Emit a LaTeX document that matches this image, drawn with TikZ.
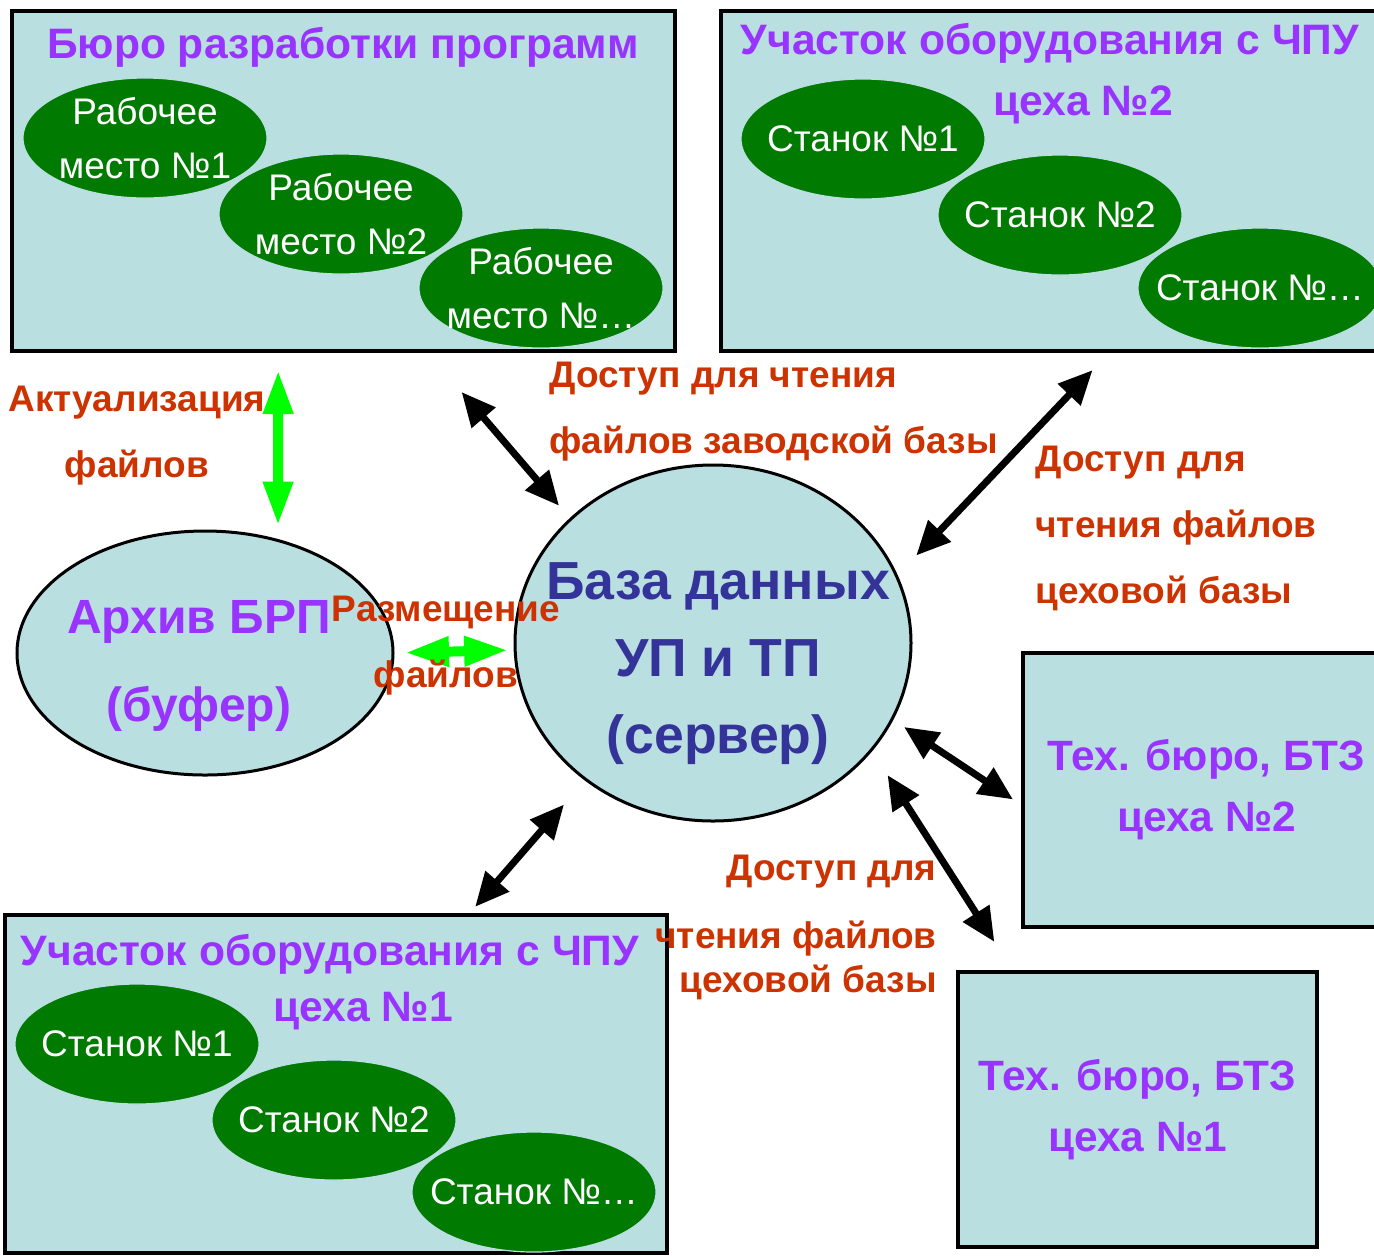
\documentclass[tikz,border=0pt]{standalone}
\usepackage{fontspec}
\setmainfont{Liberation Sans}
\usetikzlibrary{shapes.geometric, arrows.meta}
\definecolor{BoxFill}{HTML}{BADFE1}
\definecolor{TitlePurple}{HTML}{9933FF}
\definecolor{WsGreen}{HTML}{007A00}
\definecolor{DbBlue}{HTML}{333399}
\definecolor{NoteRed}{HTML}{CC3300}
\definecolor{SyncGreen}{HTML}{00FF00}

\begin{document}
\begin{tikzpicture}[x=0.5pt, y=-0.5pt,
    area/.style={draw=black, line width=2pt, fill=BoxFill, inner sep=0pt, outer sep=0pt},
    title/.style={text=TitlePurple, font=\fontsize{21.3}{31}\selectfont\bfseries, inner sep=0pt},
    ws/.style={ellipse, fill=WsGreen, draw=BoxFill, line width=0.6pt, minimum width=122pt, minimum height=60pt,
        inner xsep=-10pt, inner ysep=-3pt, text=white, align=center, font=\fontsize{18.5}{27}\selectfont},
    store/.style={ellipse, draw=black, line width=1.5pt, fill=BoxFill, inner sep=0pt, outer sep=0pt},
    note/.style={text=NoteRed, font=\fontsize{18.5}{33}\selectfont\bfseries, inner sep=0pt},
    link/.style={{Triangle[length=17pt,width=15pt]}-{Triangle[length=17pt,width=15pt]}, line width=3.5pt},
    sync/.style={{Triangle[length=22pt,width=14pt]}-{Triangle[length=22pt,width=14pt]}, line width=5pt, draw=SyncGreen}]
\useasboundingbox (0,0) rectangle (1374,1255);

% areas
\node[area, minimum width=331.5pt, minimum height=170pt] (bureau) at (343.5,181) {};
\node[area, minimum width=334.5pt, minimum height=170pt] (shop2) at (1055.5,181) {};
\node[area, minimum width=331pt, minimum height=169pt] (shop1) at (336,1084) {};
\node[area, minimum width=183.5pt, minimum height=137pt, text=TitlePurple, align=center,
    font=\fontsize{21.2}{30.5}\selectfont\bfseries] (tb2) at (1206.5,790) {Тех. бюро, БТЗ\\цеха №2};
\node[area, minimum width=179.5pt, minimum height=137.5pt, text=TitlePurple, align=center,
    font=\fontsize{21.2}{30.5}\selectfont\bfseries] (tb1) at (1137.5,1109.5) {Тех. бюро, БТЗ\\цеха №1};

\node[title] (bureautitle) at (343,47) {Бюро разработки программ};
\node[title] (shop2title) at (1050,43) {Участок оборудования с ЧПУ};
\node[title] (shop2num) at (1083,105) {цеха №2};
\node[title] (shop1title) at (330,954) {Участок оборудования с ЧПУ};
\node[title] (shop1num) at (363,1011) {цеха №1};

% workplaces and machines
\node[ws] (wp1) at (145,138) {Рабочее\\место №1};
\node[ws] (wp2) at (341,214) {Рабочее\\место №2};
\node[ws] (wp3) at (541,288) {Рабочее\\место №…};
\node[ws] (mb1) at (863,139) {Станок №1};
\node[ws] (mb2) at (1060,215) {Станок №2};
\node[ws] (mb3) at (1260,288) {Станок №…};
\node[ws] (ma1) at (137,1044) {Станок №1};
\node[ws] (ma2) at (334,1120) {Станок №2};
\node[ws] (ma3) at (534,1192) {Станок №…};

% archive and server
\node[store, minimum width=188pt, minimum height=122pt] (archive) at (205,653) {};
\node[text=TitlePurple, align=center, font=\fontsize{24}{44}\selectfont\bfseries] (archivetext) at (199,666) {Архив БРП\\(буфер)};
\node[store, minimum width=198pt, minimum height=178pt] (db) at (713,643) {};
\node[text=DbBlue, align=center, font=\fontsize{26.8}{38.5}\selectfont\bfseries] (dbtext) at (718,664) {База данных\\УП и ТП\\(сервер)};

% connectors
\draw[sync, shorten <=9.5pt, shorten >=7.5pt] (bureau.-111.4) -- (archive.57.4);
\draw[sync, shorten <=6pt, shorten >=3.5pt] (archive.-0.5) -- (db.182.3);
\draw[link, shorten <=27pt, shorten >=8.9pt] (bureau.-64.4) -- (db.139.5);
\draw[link, shorten <=13.2pt, shorten >=14.3pt] (shop2.-72.8) -- (db.20.8);
\draw[link, shorten <=7.2pt, shorten >=6pt] (db.-23.7) -- (tb2.185.1);
\draw[link, shorten <=15pt, shorten >=17.9pt] (db.-34.8) -- (tb1.132);
\draw[link, shorten <=16.6pt, shorten >=5.4pt] (db.227.9) -- (shop1.52.05);

% labels
\node[note, align=center] (updnote) at (137,436) {Актуализация\\файлов};
\node[note, align=left, anchor=west] (plantnote) at (549,412) {Доступ для чтения\\файлов заводской базы};
\node[note, align=left, anchor=west] (shop2note) at (1035,528) {Доступ для\\чтения файлов\\цеховой базы};
\node[note, align=center] (placenote) at (446,646) {Размещение\\файлов};
\node[note, align=right, anchor=east] (shop1note) at (937,927) {Доступ для\\[1pt]чтения файлов\\[-11pt]цеховой базы};
\end{tikzpicture}
\end{document}
